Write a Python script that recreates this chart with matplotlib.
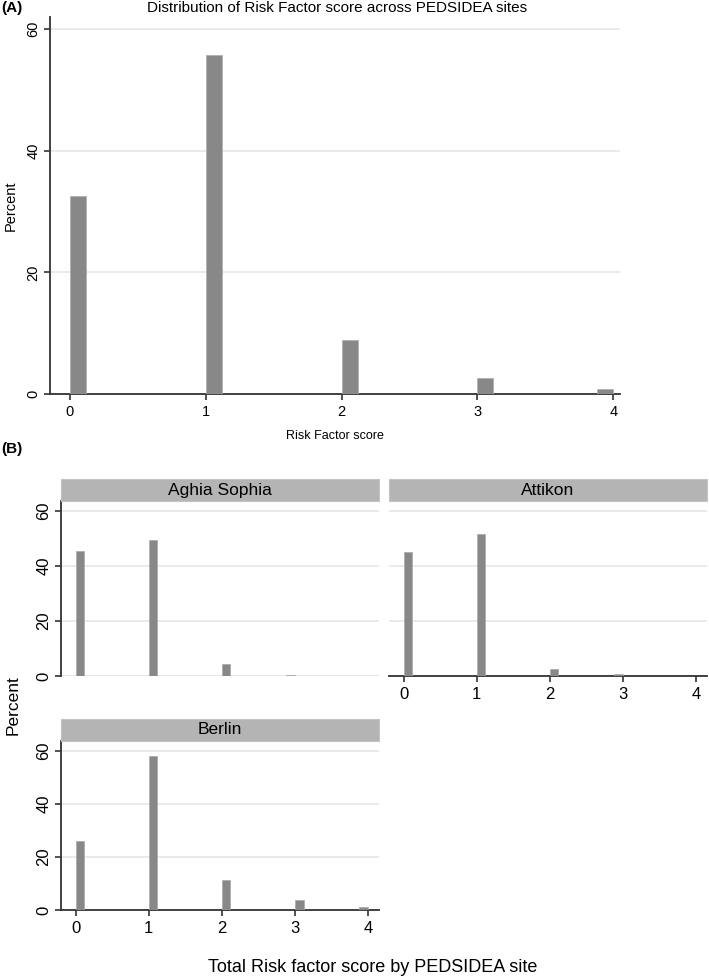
import matplotlib
matplotlib.use("Agg")
import matplotlib.pyplot as plt
from matplotlib.patches import Rectangle

plt.rcParams['font.family'] = ['Liberation Sans', 'DejaVu Sans']

# ---- data ----
scores = [0, 1, 2, 3, 4]
overall_pct = [32.5, 55.7, 8.9, 2.7, 0.8]
overall_bin_left = [0, 1, 2, 3, 3.882]

sites = ["Aghia Sophia", "Attikon", "Berlin"]
site_pct = {
    "Aghia Sophia": [45.5, 49.5, 4.2, 0.5],
    "Attikon": [45.2, 51.7, 2.5, 0.7],
    "Berlin": [25.9, 57.9, 11.3, 3.7, 1.0],
}
site_bin_left = {
    "Aghia Sophia": [0, 1, 2, 2.882],
    "Attikon": [0, 1, 2, 2.882],
    "Berlin": [0, 1, 2, 3, 3.882],
}
yticks = [0, 20, 40, 60]
bin_width = 0.118

BAR = '#888888'
GRID = '#e6e6e6'
AX = '#333333'
STRIP = '#b4b4b4'

fig = plt.figure(figsize=(7.09, 9.76), dpi=100)


def style(ax, show_x=True, show_y=True, fs=10.5):
    for s in ['top', 'right']:
        ax.spines[s].set_visible(False)
    ax.spines['left'].set_visible(show_y)
    ax.spines['bottom'].set_visible(show_x)
    for s in ['left', 'bottom']:
        ax.spines[s].set_color(AX)
        ax.spines[s].set_linewidth(1.3)
    ax.set_yticks(yticks)
    ax.yaxis.grid(True, color=GRID, linewidth=1.2)
    ax.set_axisbelow(True)
    ax.set_xticks(scores)
    ax.tick_params(axis='y', labelrotation=90, length=4, width=1.2, color=AX,
                   labelsize=fs, pad=3, left=show_y, labelleft=show_y)
    for lab in ax.get_yticklabels():
        lab.set_va('center')
    ax.tick_params(axis='x', length=4, width=1.2, color=AX, labelsize=fs,
                   pad=4, bottom=show_x, labelbottom=show_x)


# ---- Panel A ----
axA = fig.add_axes([0.0705, 0.5963, 0.804, 0.3863])
axA.bar(overall_bin_left, overall_pct, width=bin_width, align='edge',
        color=BAR, edgecolor='#b0b0b0', linewidth=0.6, zorder=3)
axA.set_xlim(-0.147, 4.05)
axA.set_ylim(0, 62)
style(axA, fs=10.5)
axA.set_ylabel("Percent", fontsize=10.5, labelpad=6)
axA.set_xlabel("Risk Factor score", fontsize=9, labelpad=8)
fig.text(0.476, 0.9915, "Distribution of Risk Factor score across PEDSIDEA sites",
         fontsize=11, ha='center', va='center')
fig.text(0.002, 0.9915, "(A)", fontsize=11, fontweight='bold', va='center', ha='left')
fig.text(0.002, 0.540, "(B)", fontsize=11, fontweight='bold', va='center', ha='left')

# ---- Panel B ----
positions = {
    "Aghia Sophia": [0.086, 0.3074, 0.4486, 0.1793],
    "Attikon": [0.5487, 0.3074, 0.4485, 0.1793],
    "Berlin": [0.086, 0.0676, 0.4486, 0.1732],
}
show = {
    "Aghia Sophia": (False, True),
    "Attikon": (True, False),
    "Berlin": (True, True),
}
for site in sites:
    ax = fig.add_axes(positions[site])
    ax.bar(site_bin_left[site], site_pct[site], width=bin_width, align='edge',
           color=BAR, edgecolor='#a8a8a8', linewidth=0.5, zorder=3)
    ax.set_xlim(-0.2, 4.15)
    ax.set_ylim(0, 63.6)
    sx, sy = show[site]
    style(ax, show_x=sx, show_y=sy, fs=12)
    if not sx:
        ax.axhline(0, color=GRID, linewidth=1.2, zorder=1)
    # strip
    pos = positions[site]
    strip_h = 0.0225
    fig.patches.append(Rectangle((pos[0], pos[1] + pos[3]), pos[2], strip_h,
                                 transform=fig.transFigure, facecolor=STRIP,
                                 edgecolor='#c4c4c4', linewidth=0.8))
    fig.text(pos[0] + pos[2] / 2, pos[1] + pos[3] + strip_h / 2, site,
             ha='center', va='center', fontsize=12.5)

fig.text(0.019, 0.2777, "Percent", rotation=90, ha='center', va='center', fontsize=12.5)
fig.text(0.525, 0.009, "Total Risk factor score by PEDSIDEA site",
         ha='center', va='center', fontsize=13)

fig.savefig("out.png", dpi=100)
